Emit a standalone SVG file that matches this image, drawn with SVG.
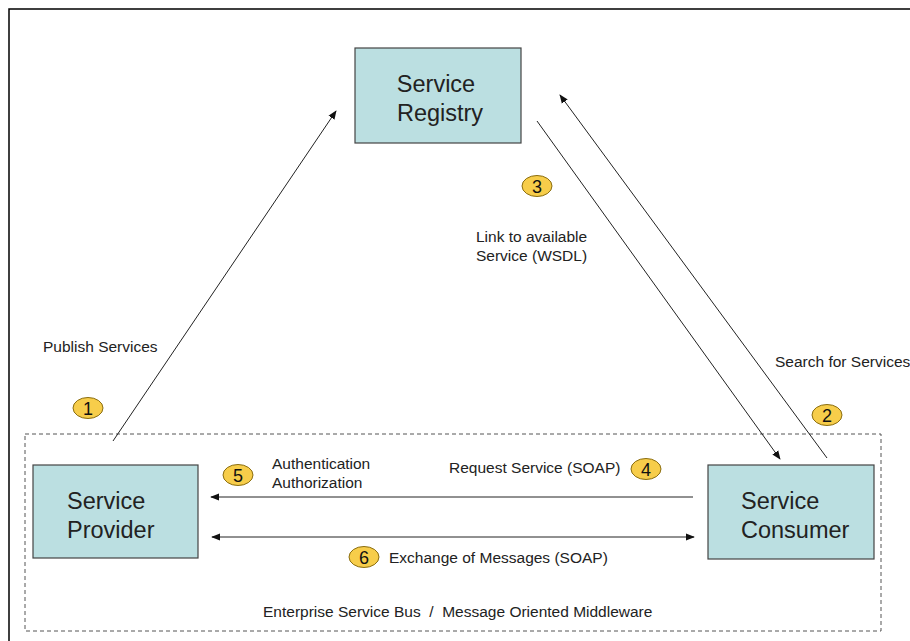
<svg xmlns="http://www.w3.org/2000/svg" width="910" height="641" viewBox="0 0 910 641">
<defs>
<style>
text{font-family:"Liberation Sans",Arial,sans-serif;fill:#222;white-space:pre}
.box{fill:#bbdfe1;stroke:#444;stroke-width:1.2}
.nt{font-size:23.5px}
.lb{font-size:15.5px}
.badge{fill:#f7cd4a;stroke:#8a6d10;stroke-width:1}
.bt{font-size:18px;text-anchor:middle;fill:#111}
.ln{stroke:#222;stroke-width:1;fill:none}
</style>
<marker id="ah" viewBox="0 0 10 10" refX="9" refY="5" markerWidth="9" markerHeight="9" orient="auto-start-reverse" markerUnits="userSpaceOnUse">
<path d="M0,1 L10,5 L0,9 Z" fill="#111"/>
</marker>
</defs>
<rect width="910" height="641" fill="#fff"/>
<path d="M9,641 V9 H910" stroke="#000" stroke-width="1.5" fill="none"/>
<rect x="25" y="434" width="856" height="197" fill="none" stroke="#555" stroke-width="1" stroke-dasharray="4,3"/>
<g id="connectors">
<line class="ln" x1="113" y1="441" x2="336" y2="111" marker-end="url(#ah)"/>
<line class="ln" x1="537" y1="121" x2="780" y2="459" marker-end="url(#ah)"/>
<line class="ln" x1="827" y1="458" x2="560" y2="95" marker-end="url(#ah)"/>
<line class="ln" x1="693" y1="497" x2="211" y2="497" stroke="#555" marker-end="url(#ah)"/>
<line class="ln" x1="212" y1="537" x2="694" y2="537" marker-start="url(#ah)" marker-end="url(#ah)"/>
</g>
<g id="registry">
<rect class="box" x="355" y="48" width="166" height="95"/>
<text class="nt" x="436" y="92" text-anchor="middle">Service</text>
<text class="nt" x="440" y="121" text-anchor="middle">Registry</text>
</g>
<g id="provider">
<rect class="box" x="33" y="465" width="165" height="93"/>
<text class="nt" x="67" y="509">Service</text>
<text class="nt" x="67" y="538">Provider</text>
</g>
<g id="consumer">
<rect class="box" x="708" y="465" width="166" height="94"/>
<text class="nt" x="741" y="509">Service</text>
<text class="nt" x="741" y="538">Consumer</text>
</g>
<g id="labels">
<text class="lb" x="43" y="352">Publish Services</text>
<text class="lb" x="476" y="242">Link to available</text>
<text class="lb" x="476" y="261">Service (WSDL)</text>
<text class="lb" x="775" y="367">Search for Services</text>
<text class="lb" x="272" y="469">Authentication</text>
<text class="lb" x="272" y="488">Authorization</text>
<text class="lb" x="449" y="473">Request Service (SOAP)</text>
<text class="lb" x="389" y="563">Exchange of Messages (SOAP)</text>
<text class="lb" x="263" y="617" xml:space="preserve">Enterprise Service Bus  /  Message Oriented Middleware</text>
</g>
<g id="badges">
<g id="b1"><ellipse class="badge" cx="88" cy="408" rx="15" ry="10.5"/><text class="bt" x="88" y="414.5">1</text></g>
<g id="b2"><ellipse class="badge" cx="827" cy="415" rx="15" ry="10.5"/><text class="bt" x="827" y="421.5">2</text></g>
<g id="b3"><ellipse class="badge" cx="537" cy="186" rx="15" ry="10.5"/><text class="bt" x="537" y="192.5">3</text></g>
<g id="b4"><ellipse class="badge" cx="646" cy="469" rx="15" ry="10.5"/><text class="bt" x="646" y="475.5">4</text></g>
<g id="b5"><ellipse class="badge" cx="238" cy="475" rx="15" ry="10.5"/><text class="bt" x="238" y="481.5">5</text></g>
<g id="b6"><ellipse class="badge" cx="364" cy="557" rx="15" ry="10.5"/><text class="bt" x="364" y="563.5">6</text></g>
</g>
</svg>
